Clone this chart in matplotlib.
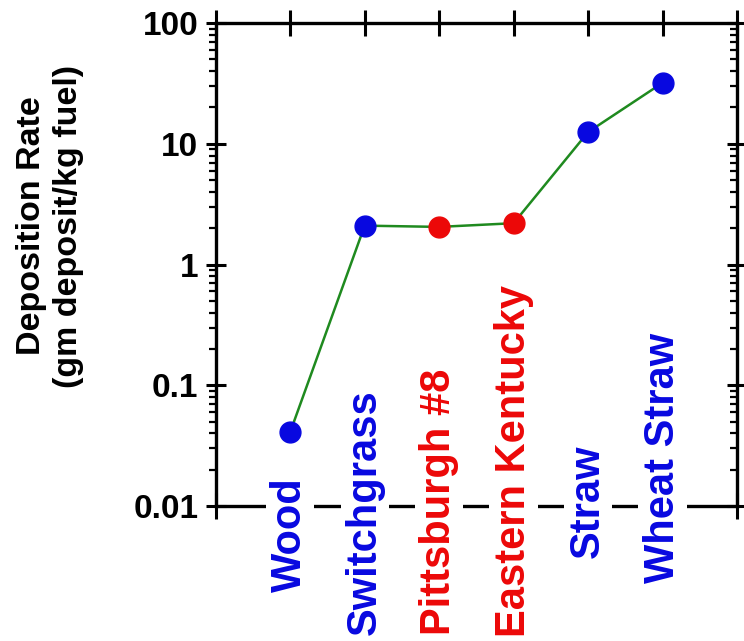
import numpy as np
import matplotlib
matplotlib.use("Agg")
import matplotlib.pyplot as plt
from matplotlib.ticker import NullFormatter, NullLocator, FixedLocator
from matplotlib.markers import TICKLEFT

# data
fuels = ['Wood', 'Switchgrass', 'Pittsburgh #8', 'Eastern Kentucky', 'Straw', 'Wheat Straw']
fuel_kind = ['biomass', 'biomass', 'coal', 'coal', 'biomass', 'biomass']
deposition = [0.041, 2.1, 2.05, 2.2, 12.5, 32.0]
y_ticks = [0.01, 0.1, 1, 10, 100]
y_tick_labels = ['0.01', '0.1', '1', '10', '100']

# layout / style
kind_color = {'biomass': '#0808e0', 'coal': '#ec0808'}
label_base = [-0.178, -0.267, -0.267, -0.271, -0.108, -0.159]  # bottom of each label, axes fraction
line_green = '#1f8a1f'

# minor ticks 2..9 in every decade
minor_ticks = [m * 10.0 ** e for e in range(-2, 2) for m in range(2, 10)]

plt.rcParams['font.family'] = ['Liberation Sans', 'DejaVu Sans']
plt.rcParams['font.weight'] = 'bold'

fig = plt.figure(figsize=(7.44, 6.41), dpi=100)
ax = fig.add_axes([0.290, 0.2106, 0.7006, 0.7534])

x = np.arange(1, len(fuels) + 1)
ax.plot(x, deposition, color=line_green, lw=1.8, zorder=3)
for xi, val, kind in zip(x, deposition, fuel_kind):
    ax.plot(xi, val, 'o', ms=15, color=kind_color[kind], mec=kind_color[kind], zorder=4)

ax.set_yscale('log')
ax.set_ylim(0.01, 100)
ax.set_xlim(0, len(fuels) + 1)

for s in ax.spines.values():
    s.set_linewidth(2.4)

# x ticks (no labels) on top and bottom
ax.xaxis.set_major_locator(FixedLocator(np.arange(0, len(fuels) + 2)))
ax.tick_params(axis='x', which='major', direction='inout', length=19, width=2.2,
               top=True, bottom=True, labelbottom=False, labeltop=False)

# y major ticks on both sides, crossing the frame
ax.yaxis.set_major_locator(FixedLocator(y_ticks))
ax.set_yticklabels(y_tick_labels)
ax.yaxis.set_minor_locator(NullLocator())
ax.yaxis.set_minor_formatter(NullFormatter())
ax.tick_params(axis='y', which='major', direction='inout', length=15, width=2.2,
               labelsize=24, pad=5, left=True, right=True)

# minor ticks: outward on the left frame, inward on the right frame
ytr = ax.get_yaxis_transform()
ax.plot(np.zeros(len(minor_ticks)), minor_ticks, linestyle='none', marker=TICKLEFT,
        ms=5, mew=1.6, color='black', transform=ytr, clip_on=False, zorder=2.6)
ax.plot(np.ones(len(minor_ticks)), minor_ticks, linestyle='none', marker=TICKLEFT,
        ms=5, mew=1.6, color='black', transform=ytr, clip_on=False, zorder=2.6)

# category labels written inside, over the bottom axis
for xi, name, kind, yb in zip(x, fuels, fuel_kind, label_base):
    ax.text(xi, yb, name, transform=ax.get_xaxis_transform(), rotation=90,
            ha='center', va='bottom', fontsize=30, fontweight='bold',
            color=kind_color[kind], zorder=5, clip_on=False,
            bbox=dict(facecolor='white', edgecolor='none', pad=3))

fig.text(50 / 744, 1 - 226 / 641, 'Deposition Rate\n(gm deposit/kg fuel)',
         rotation=90, ha='center', va='center', multialignment='center',
         fontsize=24.5, fontweight='bold', linespacing=1.25)

fig.savefig('out.png', dpi=100)
